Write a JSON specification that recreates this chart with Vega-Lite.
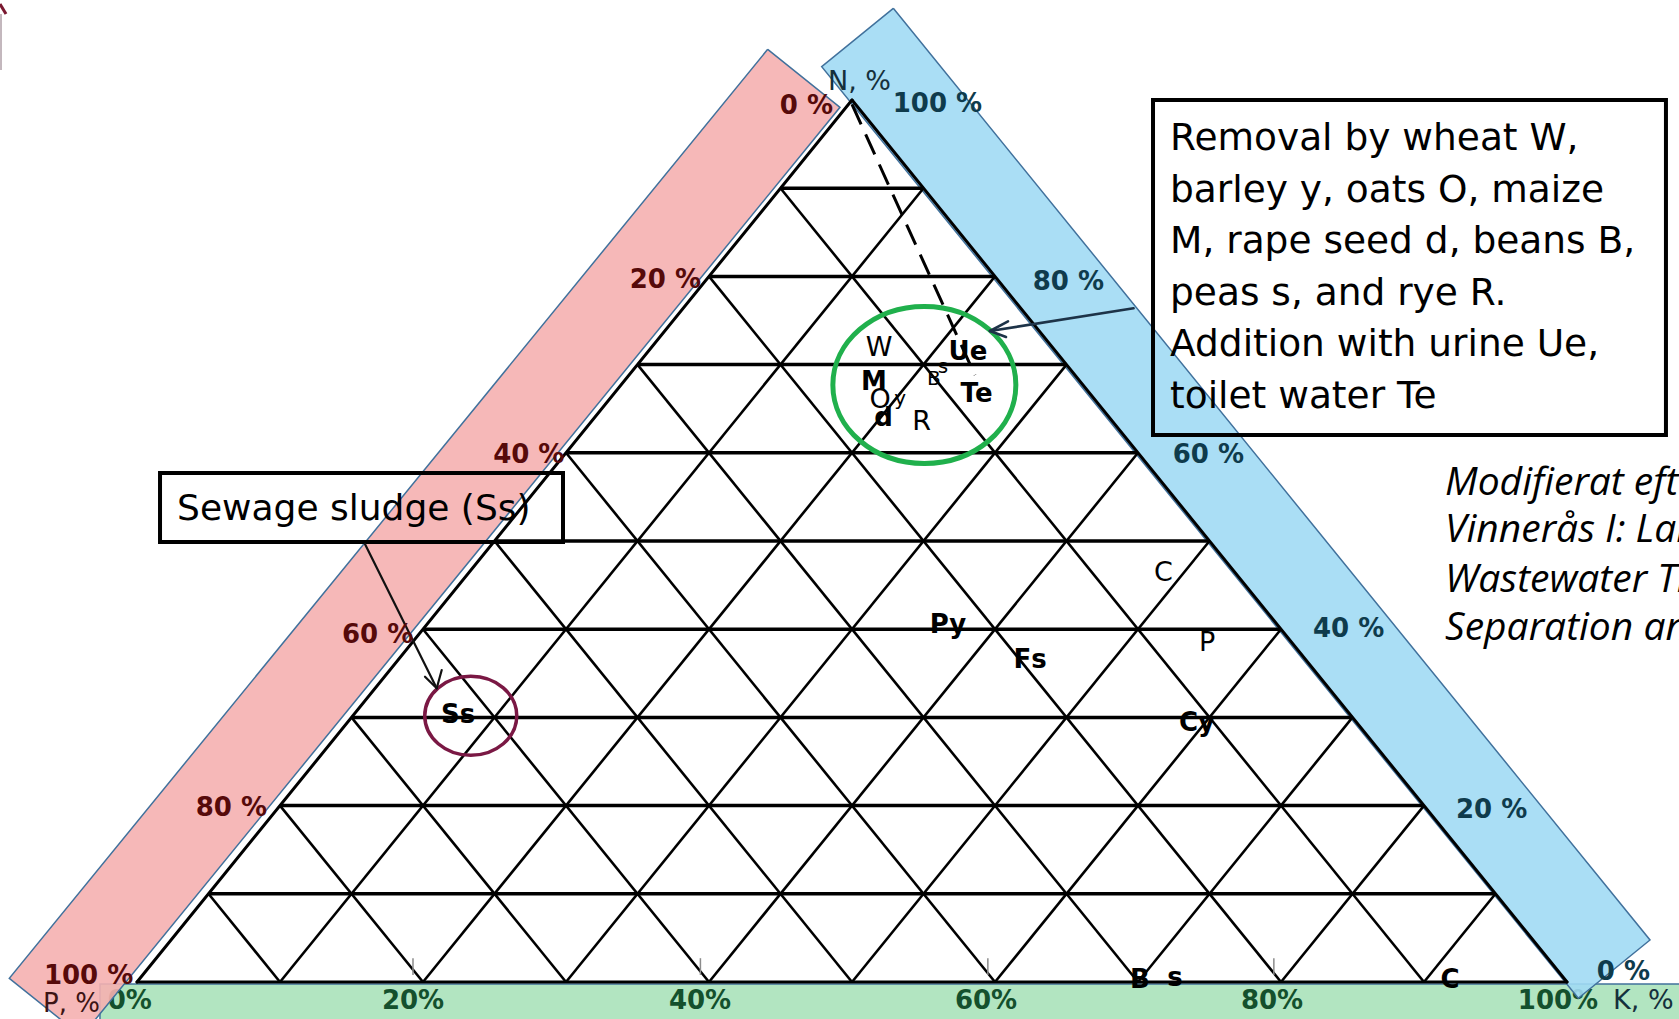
{
  "$schema": "https://vega.github.io/schema/vega-lite/v6.json",
  "width": 1679,
  "height": 1019,
  "autosize": {"type": "none"},
  "padding": 0,
  "background": "#ffffff",
  "config": {"view": {"stroke": null}},
  "datasets": {
    "grid": [
      {"x": 5, "y": 10, "x2": 95, "y2": 10, "kind": "h"},
      {"x": 10, "y": 20, "x2": 90, "y2": 20, "kind": "h"},
      {"x": 15, "y": 30, "x2": 85, "y2": 30, "kind": "h"},
      {"x": 20, "y": 40, "x2": 80, "y2": 40, "kind": "h"},
      {"x": 25, "y": 50, "x2": 75, "y2": 50, "kind": "h"},
      {"x": 30, "y": 60, "x2": 70, "y2": 60, "kind": "h"},
      {"x": 35, "y": 70, "x2": 65, "y2": 70, "kind": "h"},
      {"x": 40, "y": 80, "x2": 60, "y2": 80, "kind": "h"},
      {"x": 45, "y": 90, "x2": 55, "y2": 90, "kind": "h"},
      {"x": 10, "y": 0, "x2": 55, "y2": 90, "kind": "d"},
      {"x": 20, "y": 0, "x2": 60, "y2": 80, "kind": "d"},
      {"x": 30, "y": 0, "x2": 65, "y2": 70, "kind": "d"},
      {"x": 40, "y": 0, "x2": 70, "y2": 60, "kind": "d"},
      {"x": 50, "y": 0, "x2": 75, "y2": 50, "kind": "d"},
      {"x": 60, "y": 0, "x2": 80, "y2": 40, "kind": "d"},
      {"x": 70, "y": 0, "x2": 85, "y2": 30, "kind": "d"},
      {"x": 80, "y": 0, "x2": 90, "y2": 20, "kind": "d"},
      {"x": 90, "y": 0, "x2": 95, "y2": 10, "kind": "d"},
      {"x": 10, "y": 0, "x2": 5, "y2": 10, "kind": "d"},
      {"x": 20, "y": 0, "x2": 10, "y2": 20, "kind": "d"},
      {"x": 30, "y": 0, "x2": 15, "y2": 30, "kind": "d"},
      {"x": 40, "y": 0, "x2": 20, "y2": 40, "kind": "d"},
      {"x": 50, "y": 0, "x2": 25, "y2": 50, "kind": "d"},
      {"x": 60, "y": 0, "x2": 30, "y2": 60, "kind": "d"},
      {"x": 70, "y": 0, "x2": 35, "y2": 70, "kind": "d"},
      {"x": 80, "y": 0, "x2": 40, "y2": 80, "kind": "d"},
      {"x": 90, "y": 0, "x2": 45, "y2": 90, "kind": "d"},
      {"x": 0, "y": 0, "x2": 100, "y2": 0, "kind": "edge"},
      {"x": 0, "y": 0, "x2": 50, "y2": 100, "kind": "edge"},
      {"x": 100, "y": 0, "x2": 50, "y2": 100, "kind": "edge"}
    ],
    "pinkBand": [
      {"i": 0, "x": 44.105, "y": 105.748},
      {"i": 1, "x": 49.161, "y": 99.172},
      {"i": 2, "x": -3.874, "y": -6.156},
      {"i": 3, "x": -8.93, "y": 0.42},
      {"i": 4, "x": 44.105, "y": 105.748}
    ],
    "blueBand": [
      {"i": 0, "x": 52.888, "y": 110.397},
      {"i": 1, "x": 105.804, "y": 4.762},
      {"i": 2, "x": 100.79, "y": -1.848},
      {"i": 3, "x": 47.881, "y": 103.776},
      {"i": 4, "x": 52.888, "y": 110.397}
    ],
    "greenBand": [{"x": -2.59, "x2": 110, "y": -0.23, "y2": -6}],
    "boxes": [
      {"x": 71.05, "x2": 106.92, "y": 100.0, "y2": 62.02},
      {"x": 1.61, "x2": 29.79, "y": 57.71, "y2": 49.89}
    ],
    "ticks": [
      {"x": 19.3, "y": 0.8, "y2": 2.7},
      {"x": 39.4, "y": 0.8, "y2": 2.7},
      {"x": 59.5, "y": 0.8, "y2": 2.7},
      {"x": 79.5, "y": 0.8, "y2": 2.7}
    ],
    "cornerMark": [
      {"x": -9.58, "y": 110.88, "x2": -9.16, "y2": 109.75, "kind": "hook"},
      {"x": -9.51, "y": 109.75, "x2": -9.51, "y2": 103.4, "kind": "edge"}
    ],
    "urineLine": [{"x": 50, "y": 99.5, "x2": 58.6, "y2": 68.8}],
    "cropCluster": [{"x": 55.06, "y": 67.69}],
    "sludgePoint": [{"x": 23.34, "y": 30.18}],
    "sludgeArrow": [
      {"x": 15.94, "y": 49.66, "x2": 20.96, "y2": 33.3},
      {"x": 20.14, "y": 34.61, "x2": 20.96, "y2": 33.3},
      {"x": 21.31, "y": 35.37, "x2": 20.96, "y2": 33.3}
    ],
    "cropArrow": [
      {"x": 69.69, "y": 76.38, "x2": 59.65, "y2": 73.81},
      {"x": 60.91, "y": 74.89, "x2": 59.65, "y2": 73.81},
      {"x": 60.77, "y": 73.13, "x2": 59.65, "y2": 73.81}
    ],
    "pAxis": [
      {"x": 48.67, "y": 99.32, "t": "0 %"},
      {"x": 39.44, "y": 79.59, "t": "20 %"},
      {"x": 29.89, "y": 59.75, "t": "40 %"},
      {"x": 19.32, "y": 39.29, "t": "60 %"},
      {"x": 9.09, "y": 19.73, "t": "80 %"},
      {"x": -0.26, "y": 0.68, "t": "100 %"}
    ],
    "pTitle": [{"x": -2.59, "y": -2.49, "t": "P, %"}],
    "nAxis": [
      {"x": 52.85, "y": 99.55, "t": "100 %"},
      {"x": 62.64, "y": 79.31, "t": "80 %"},
      {"x": 72.43, "y": 59.75, "t": "60 %"},
      {"x": 82.24, "y": 40.02, "t": "40 %"},
      {"x": 92.24, "y": 19.5, "t": "20 %"},
      {"x": 102.08, "y": 1.13, "t": "0 %"}
    ],
    "axisTitles": [
      {"x": 48.32, "y": 102.04, "t": "N, %"},
      {"x": 103.22, "y": -2.15, "t": "K, %"}
    ],
    "kAxis": [
      {"x": -0.5, "y": -2.2, "t": "0%"},
      {"x": 19.3, "y": -2.2, "t": "20%"},
      {"x": 39.37, "y": -2.2, "t": "40%"},
      {"x": 59.37, "y": -2.2, "t": "60%"},
      {"x": 79.37, "y": -2.2, "t": "80%"},
      {"x": 99.37, "y": -2.2, "t": "100%"}
    ],
    "cropsRegular": [
      {"x": 51.89, "y": 71.88, "t": "W"},
      {"x": 51.96, "y": 65.99, "t": "O"},
      {"x": 54.87, "y": 63.44, "t": "R"},
      {"x": 71.78, "y": 46.32, "t": "C"},
      {"x": 74.83, "y": 38.44, "t": "P"}
    ],
    "cropsSmall": [
      {"x": 53.36, "y": 66.1, "t": "y"},
      {"x": 55.73, "y": 68.42, "t": "B"},
      {"x": 56.36, "y": 69.78, "t": "s"}
    ],
    "cropsBold": [
      {"x": 51.54, "y": 68.08, "t": "M"},
      {"x": 52.2, "y": 63.95, "t": "d"},
      {"x": 58.11, "y": 71.43, "t": "Ue"},
      {"x": 58.71, "y": 66.67, "t": "Te"},
      {"x": 56.71, "y": 40.53, "t": "Py"},
      {"x": 62.45, "y": 36.51, "t": "Fs"},
      {"x": 74.13, "y": 29.37, "t": "Cy"},
      {"x": 22.45, "y": 30.27, "t": "Ss"},
      {"x": 70.14, "y": 0.23, "t": "B"},
      {"x": 72.59, "y": 0.45, "t": "s"},
      {"x": 91.82, "y": 0.23, "t": "C"}
    ],
    "removalText": [
      {"x": 72.24, "y": 94.33, "t": "Removal by wheat W,"},
      {"x": 72.24, "y": 88.48, "t": "barley y, oats O, maize"},
      {"x": 72.24, "y": 82.63, "t": "M, rape seed d, beans B,"},
      {"x": 72.24, "y": 76.78, "t": "peas s, and rye R."},
      {"x": 72.24, "y": 70.93, "t": "Addition with urine Ue,"},
      {"x": 72.24, "y": 65.08, "t": "toilet water Te"}
    ],
    "sludgeText": [{"x": 2.8, "y": 52.38, "t": "Sewage sludge (Ss)"}],
    "source": [
      {"x": 91.47, "y": 55.22, "t": "Modifierat efter"},
      {"x": 91.47, "y": 49.92, "t": "Vinnerås I: Larsen"},
      {"x": 91.47, "y": 44.25, "t": "Wastewater Treatment"},
      {"x": 91.47, "y": 38.78, "t": "Separation and"}
    ]
  },
  "encoding": {
    "x": {"field": "x", "type": "quantitative", "scale": {"domain": [-9.5804, 107.8322], "nice": false, "zero": false}, "axis": null},
    "y": {"field": "y", "type": "quantitative", "scale": {"domain": [-4.195, 111.3379], "nice": false, "zero": false}, "axis": null}
  },
  "layer": [
    {
      "data": {"name": "greenBand"},
      "mark": {"type": "rect", "fill": "#b2e5c1", "stroke": "#41719c", "strokeWidth": 1.5, "clip": true},
      "encoding": {"x2": {"field": "x2"}, "y2": {"field": "y2"}}
    },
    {
      "data": {"name": "boxes"},
      "mark": {"type": "rect", "fill": "#ffffff", "strokeWidth": 0},
      "encoding": {"x2": {"field": "x2"}, "y2": {"field": "y2"}}
    },
    {
      "data": {"name": "kAxis"},
      "mark": {"type": "text", "align": "center", "baseline": "middle", "font": "DejaVu Sans", "fontSize": 26, "fontWeight": "bold", "color": "#14502d", "clip": true},
      "encoding": {"text": {"field": "t"}}
    },
    {
      "data": {"name": "pinkBand"},
      "mark": {"type": "line", "fill": "#f5b0b0", "fillOpacity": 0.9, "stroke": "#41719c", "strokeWidth": 1.5, "clip": true},
      "encoding": {"order": {"field": "i", "type": "quantitative"}}
    },
    {
      "data": {"name": "blueBand"},
      "mark": {"type": "line", "fill": "#a1daf4", "fillOpacity": 0.9, "stroke": "#41719c", "strokeWidth": 1.5, "clip": true},
      "encoding": {"order": {"field": "i", "type": "quantitative"}}
    },
    {
      "data": {"name": "boxes"},
      "mark": {"type": "rect", "filled": false, "stroke": "#000000", "strokeWidth": 4},
      "encoding": {"x2": {"field": "x2"}, "y2": {"field": "y2"}}
    },
    {
      "data": {"name": "cornerMark"},
      "transform": [{"filter": {"field": "kind", "equal": "hook"}}],
      "mark": {"type": "rule", "color": "#7a1830", "strokeWidth": 3, "clip": true},
      "encoding": {"x2": {"field": "x2"}, "y2": {"field": "y2"}}
    },
    {
      "data": {"name": "cornerMark"},
      "transform": [{"filter": {"field": "kind", "equal": "edge"}}],
      "mark": {"type": "rule", "color": "#b0a0a8", "strokeWidth": 1.5, "clip": true},
      "encoding": {"x2": {"field": "x2"}, "y2": {"field": "y2"}}
    },
    {
      "data": {"name": "grid"},
      "transform": [{"filter": {"field": "kind", "equal": "d"}}],
      "mark": {"type": "rule", "color": "#000000", "strokeWidth": 2.6},
      "encoding": {"x2": {"field": "x2"}, "y2": {"field": "y2"}}
    },
    {
      "data": {"name": "grid"},
      "transform": [{"filter": {"field": "kind", "equal": "h"}}],
      "mark": {"type": "rule", "color": "#000000", "strokeWidth": 3.5},
      "encoding": {"x2": {"field": "x2"}, "y2": {"field": "y2"}}
    },
    {
      "data": {"name": "grid"},
      "transform": [{"filter": {"field": "kind", "equal": "edge"}}],
      "mark": {"type": "rule", "color": "#000000", "strokeWidth": 3, "strokeCap": "round"},
      "encoding": {"x2": {"field": "x2"}, "y2": {"field": "y2"}}
    },
    {
      "data": {"name": "ticks"},
      "mark": {"type": "rule", "color": "#8c8c8c", "strokeWidth": 1.5},
      "encoding": {"y2": {"field": "y2"}}
    },
    {
      "data": {"name": "urineLine"},
      "mark": {"type": "rule", "color": "#000000", "strokeWidth": 3, "strokeDash": [22, 11]},
      "encoding": {"x2": {"field": "x2"}, "y2": {"field": "y2"}}
    },
    {
      "data": {"name": "cropCluster"},
      "mark": {"type": "point", "shape": "M1,0C1,0.4739,0.5523,0.858,0,0.858C-0.5523,0.858,-1,0.4739,-1,0C-1,-0.4739,-0.5523,-0.858,0,-0.858C0.5523,-0.858,1,-0.4739,1,0Z", "size": 33489, "filled": false, "stroke": "#20b04c", "strokeWidth": 5, "opacity": 1}
    },
    {
      "data": {"name": "sludgePoint"},
      "mark": {"type": "point", "shape": "M1,0C1,0.4739,0.5523,0.858,0,0.858C-0.5523,0.858,-1,0.4739,-1,0C-1,-0.4739,-0.5523,-0.858,0,-0.858C0.5523,-0.858,1,-0.4739,1,0Z", "size": 8464, "filled": false, "stroke": "#7a1844", "strokeWidth": 3.5, "opacity": 1}
    },
    {
      "data": {"name": "sludgeArrow"},
      "mark": {"type": "rule", "color": "#111111", "strokeWidth": 2.2, "strokeCap": "round"},
      "encoding": {"x2": {"field": "x2"}, "y2": {"field": "y2"}}
    },
    {
      "data": {"name": "cropArrow"},
      "mark": {"type": "rule", "color": "#1d3348", "strokeWidth": 2.6, "strokeCap": "round"},
      "encoding": {"x2": {"field": "x2"}, "y2": {"field": "y2"}}
    },
    {
      "data": {"name": "pAxis"},
      "mark": {"type": "text", "align": "right", "baseline": "middle", "font": "DejaVu Sans", "fontSize": 26, "fontWeight": "bold", "color": "#560a0a"},
      "encoding": {"text": {"field": "t"}}
    },
    {
      "data": {"name": "pTitle"},
      "mark": {"type": "text", "align": "right", "baseline": "middle", "font": "DejaVu Sans", "fontSize": 26, "color": "#3d1414"},
      "encoding": {"text": {"field": "t"}}
    },
    {
      "data": {"name": "nAxis"},
      "mark": {"type": "text", "align": "left", "baseline": "middle", "font": "DejaVu Sans", "fontSize": 26, "fontWeight": "bold", "color": "#0f3b4c", "clip": true},
      "encoding": {"text": {"field": "t"}}
    },
    {
      "data": {"name": "axisTitles"},
      "mark": {"type": "text", "align": "left", "baseline": "middle", "font": "DejaVu Sans", "fontSize": 27, "color": "#15303c", "clip": true},
      "encoding": {"text": {"field": "t"}}
    },
    {
      "data": {"name": "cropsRegular"},
      "mark": {"type": "text", "align": "center", "baseline": "middle", "font": "DejaVu Sans", "fontSize": 27, "color": "#000000"},
      "encoding": {"text": {"field": "t"}}
    },
    {
      "data": {"name": "cropsSmall"},
      "mark": {"type": "text", "align": "center", "baseline": "middle", "font": "DejaVu Sans", "fontSize": 20, "color": "#000000"},
      "encoding": {"text": {"field": "t"}}
    },
    {
      "data": {"name": "cropsBold"},
      "mark": {"type": "text", "align": "center", "baseline": "middle", "font": "DejaVu Sans", "fontSize": 26, "fontWeight": "bold", "color": "#000000"},
      "encoding": {"text": {"field": "t"}}
    },
    {
      "data": {"name": "removalText"},
      "mark": {"type": "text", "align": "left", "baseline": "alphabetic", "font": "DejaVu Sans", "fontSize": 37.5, "color": "#000000", "clip": true},
      "encoding": {"text": {"field": "t"}}
    },
    {
      "data": {"name": "sludgeText"},
      "mark": {"type": "text", "align": "left", "baseline": "alphabetic", "font": "DejaVu Sans", "fontSize": 36, "color": "#000000"},
      "encoding": {"text": {"field": "t"}}
    },
    {
      "data": {"name": "source"},
      "mark": {"type": "text", "align": "left", "baseline": "alphabetic", "font": "Open Sans", "fontStyle": "italic", "fontSize": 39, "color": "#000000", "clip": true},
      "encoding": {"text": {"field": "t"}}
    }
  ]
}
